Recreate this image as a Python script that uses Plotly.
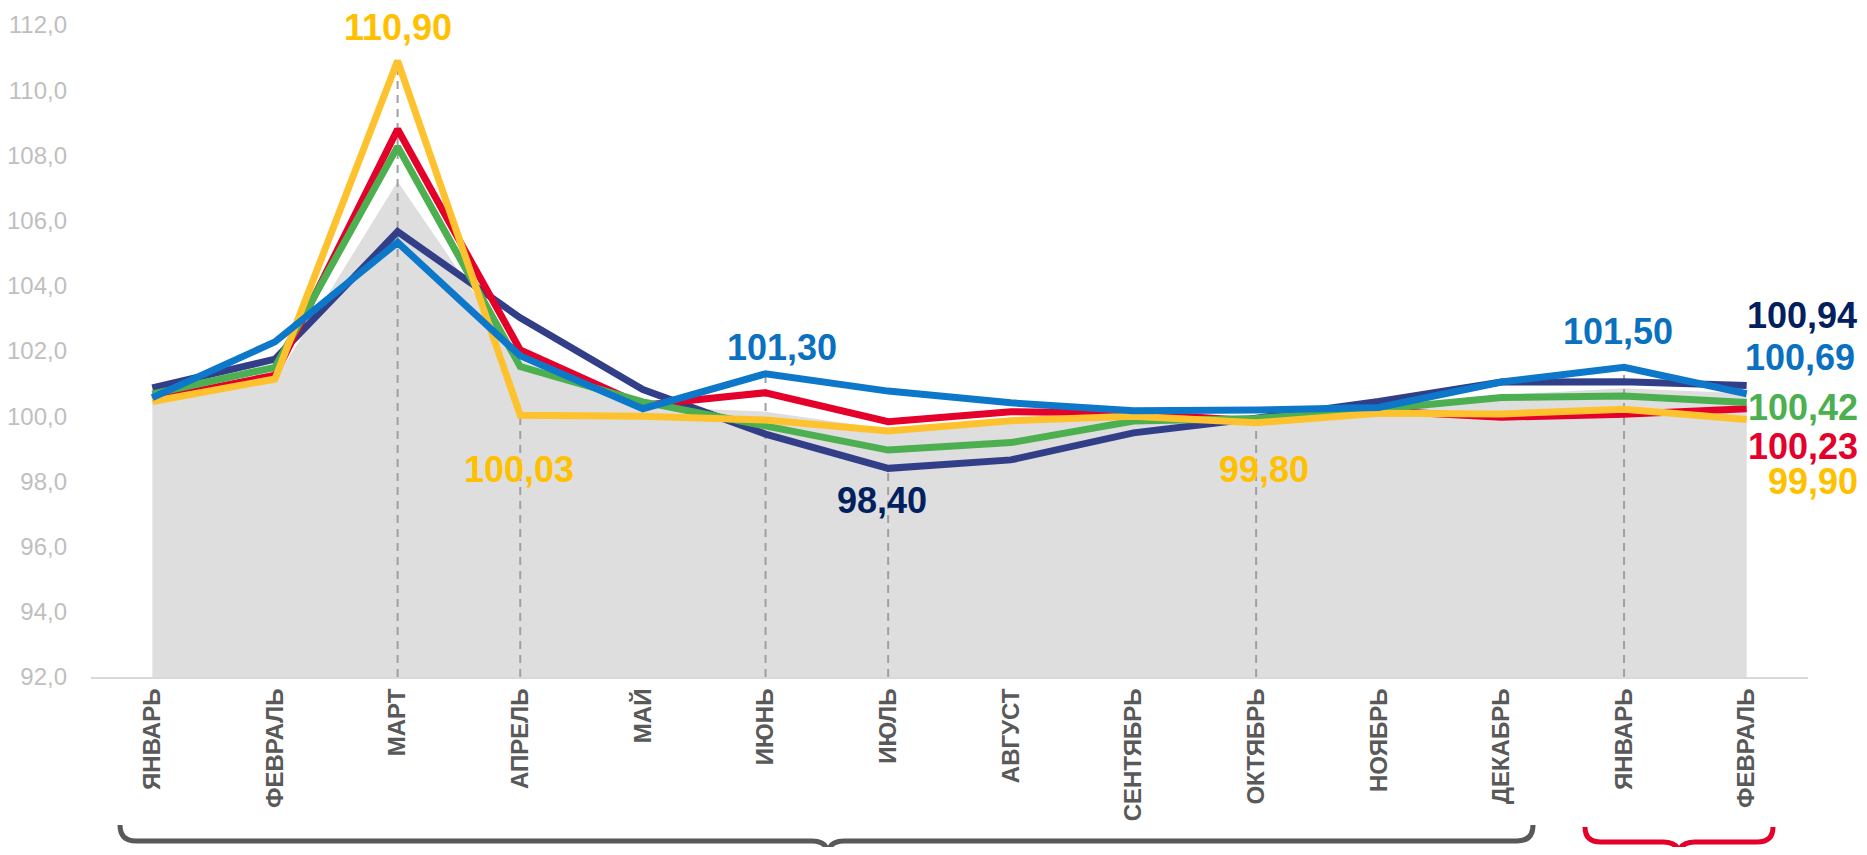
import plotly.graph_objects as go

# months along the x axis (two years: Jan..Dec, then Jan, Feb)
months = ["ЯНВАРЬ", "ФЕВРАЛЬ", "МАРТ", "АПРЕЛЬ", "МАЙ", "ИЮНЬ", "ИЮЛЬ", "АВГУСТ",
          "СЕНТЯБРЬ", "ОКТЯБРЬ", "НОЯБРЬ", "ДЕКАБРЬ", "ЯНВАРЬ", "ФЕВРАЛЬ"]
xpos = list(range(len(months)))

# grey background area
grey_vals = [100.40, 101.10, 107.20, 101.70, 100.30, 100.14, 99.60, 99.90, 100.00, 99.90, 100.10, 100.65, 100.86, 100.70]

navy_vals = [100.87, 101.75, 105.66, 103.02, 100.82, 99.45, 98.40, 98.66, 99.49, 99.94, 100.45, 101.05, 101.06, 100.94]
red_vals = [100.50, 101.26, 108.80, 102.03, 100.34, 100.72, 99.83, 100.14, 100.09, 99.85, 100.17, 99.97, 100.06, 100.23]
green_vals = [100.68, 101.50, 108.27, 101.52, 100.44, 99.70, 98.96, 99.19, 99.85, 99.93, 100.21, 100.57, 100.62, 100.42]
yellow_vals = [100.45, 101.14, 110.90, 100.03, 100.00, 99.88, 99.55, 99.86, 100.00, 99.80, 100.09, 100.07, 100.21, 99.90]
blue_vals = [100.57, 102.28, 105.33, 101.85, 100.23, 101.30, 100.77, 100.41, 100.17, 100.19, 100.27, 101.05, 101.50, 100.69]

Y_MIN, Y_MAX = 92, 112
yticks = list(range(92, 113, 2))

# the page body has an 8px margin, so the figure is 16px smaller than the window
OFF = 8
W, H = 1867 - 2 * OFF, 855 - 2 * OFF
L, T = 91 - OFF, 25 - OFF
R, B = W - (1808 - OFF), H - (677 - OFF)
PW, PH = W - L - R, H - T - B


def to_paper(x, y):
    # window pixels -> paper fractions
    return (x - OFF - L) / PW, (H - B - (y - OFF)) / PH


def brace_path(x0, x1, xc, ytop, yflat, ytip, r=16):
    pts = [("M", [(x0, ytop)]),
           ("Q", [(x0, yflat), (x0 + r, yflat)]),
           ("L", [(xc - r, yflat)]),
           ("Q", [(xc, yflat), (xc, ytip)]),
           ("Q", [(xc, yflat), (xc + r, yflat)]),
           ("L", [(x1 - r, yflat)]),
           ("Q", [(x1, yflat), (x1, ytop)])]
    out = []
    for cmd, coords in pts:
        s = " ".join("%.5f,%.5f" % to_paper(cx, cy) for cx, cy in coords)
        out.append(cmd + " " + s)
    return " ".join(out)


fig = go.Figure()

fig.add_trace(go.Scatter(x=xpos, y=grey_vals, mode="lines", fill="tozeroy",
                         fillcolor="#dedede", line=dict(width=0, color="#dedede"),
                         hoverinfo="skip"))

# dashed drop lines from the labelled points
drops = [(2, yellow_vals), (3, yellow_vals), (5, blue_vals), (6, navy_vals), (9, yellow_vals), (12, blue_vals)]
dx, dy = [], []
for i, vals in drops:
    dx += [xpos[i], xpos[i], None]
    dy += [Y_MIN, vals[i], None]
fig.add_trace(go.Scatter(x=dx, y=dy, mode="lines", line=dict(color="#a0a0a0", width=2, dash="8px,6px"),
                         hoverinfo="skip"))

series = [
    (navy_vals, "#323f88"),
    (red_vals, "#e4002b"),
    (green_vals, "#4caf50"),
    (yellow_vals, "#ffc22f"),
    (blue_vals, "#0d78c9"),
]
for vals, col in series:
    fig.add_trace(go.Scatter(x=xpos, y=vals, mode="lines", line=dict(color=col, width=7)))


def fmt(v):
    return ("%.2f" % v).replace(".", ",")


labels = [
    # (index, series, colour, xshift, yshift, xanchor)
    (2, yellow_vals, "#ffc000", 0, 33, "center"),
    (3, yellow_vals, "#ffc000", -1, -54, "center"),
    (5, blue_vals, "#0a70c0", 16, 26, "center"),
    (6, navy_vals, "#002060", -6, -32, "center"),
    (9, yellow_vals, "#ffc000", 8, -47, "center"),
    (12, blue_vals, "#0a70c0", -6, 36, "center"),
    (13, navy_vals, "#002060", 112, 70, "right"),
    (13, blue_vals, "#0a70c0", 110, 36, "right"),
    (13, green_vals, "#4caf50", 113, -5, "right"),
    (13, red_vals, "#e4002b", 113, -38, "right"),
    (13, yellow_vals, "#ffc000", 113, -62, "right"),
]
for i, vals, col, xs, ys, xa in labels:
    fig.add_annotation(x=xpos[i], y=vals[i], text=fmt(vals[i]), showarrow=False,
                       xshift=xs, yshift=ys, xanchor=xa, yanchor="middle",
                       font=dict(family="Liberation Sans, Arial", size=36, color=col, weight="bold"))

fig.add_shape(type="path", xref="paper", yref="paper",
              path=brace_path(120, 1533, 828, 825, 841, 855),
              line=dict(color="#595959", width=5))
fig.add_shape(type="path", xref="paper", yref="paper",
              path=brace_path(1585, 1773, 1679, 827, 842, 855),
              line=dict(color="#e4002b", width=5))

fig.update_xaxes(range=[-0.5, len(months) - 0.5], tickmode="array", tickvals=xpos, ticktext=months,
                 tickangle=-90, showgrid=False, zeroline=False, showline=True, automargin=False,
                 linecolor="#d9d9d9", linewidth=2, ticks="",
                 tickfont=dict(family="Liberation Sans, Arial", size=24, color="#595959", weight="bold"))
fig.update_yaxes(range=[Y_MIN, Y_MAX], tickmode="array", tickvals=yticks, tickformat=".1f",
                 showgrid=False, zeroline=False, showline=False, ticks="", automargin=False,
                 ticklabelstandoff=23,
                 tickfont=dict(family="Liberation Sans, Arial", size=24, color="#bfbfbf"))
fig.update_layout(
    width=W, height=H,
    margin=dict(l=L, r=R, t=T, b=B),
    separators=", ",
    showlegend=False,
    plot_bgcolor="white",
    paper_bgcolor="white",
)

fig.write_html("out.html")
